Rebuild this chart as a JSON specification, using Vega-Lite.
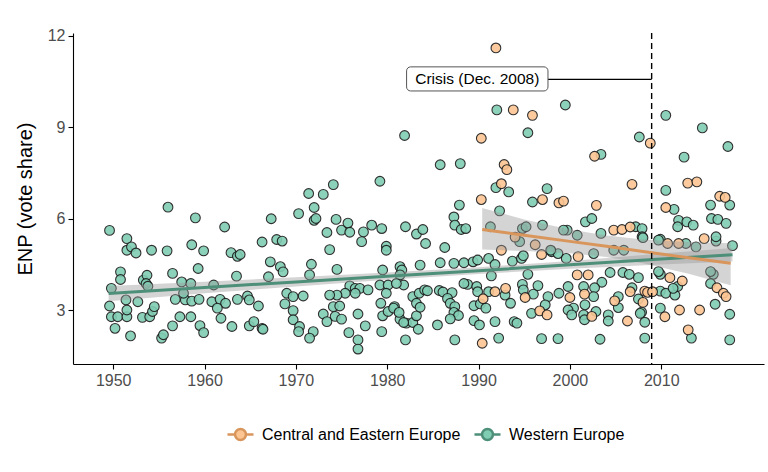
{
"$schema": "https://vega.github.io/schema/vega-lite/v6.json",
"width": 691, "height": 331,
"autosize": {"type": "none"},
"padding": {"left": 73, "top": 33, "right": 4, "bottom": 108},
"background": "white",
"config": {
 "font": "Liberation Sans",
 "view": {"stroke": null},
 "axis": {"grid": false, "domainColor": "#000000", "domainWidth": 1.1, "tickColor": "#000000", "tickWidth": 1.1, "tickSize": 5, "labelColor": "#4d4d4d", "labelFontSize": 16, "labelPadding": 3, "titleColor": "#000000", "titleFontSize": 20, "titleFontWeight": "normal"}
},
"datasets": {
 "pts": [
{"region":"Western Europe","year":1949.6,"enp":5.62},{"region":"Western Europe","year":1951.5,"enp":5.35},{"region":"Western Europe","year":1951.5,"enp":4.97},{"region":"Western Europe","year":1952.0,"enp":5.08},{"region":"Western Europe","year":1952.5,"enp":4.88},{"region":"Western Europe","year":1954.2,"enp":4.97},{"region":"Western Europe","year":1956.0,"enp":6.38},{"region":"Western Europe","year":1955.9,"enp":4.95},{"region":"Western Europe","year":1958.6,"enp":5.15},{"region":"Western Europe","year":1959.0,"enp":6.03},{"region":"Western Europe","year":1959.9,"enp":4.95},{"region":"Western Europe","year":1962.2,"enp":5.73},{"region":"Western Europe","year":1962.9,"enp":4.89},{"region":"Western Europe","year":1963.6,"enp":4.77},{"region":"Western Europe","year":1963.9,"enp":4.83},{"region":"Western Europe","year":1966.3,"enp":5.24},
{"region":"Western Europe","year":1950.8,"enp":4.26},{"region":"Western Europe","year":1950.8,"enp":4.01},{"region":"Western Europe","year":1953.3,"enp":3.99},{"region":"Western Europe","year":1953.7,"enp":4.15},{"region":"Western Europe","year":1953.6,"enp":3.88},{"region":"Western Europe","year":1953.8,"enp":3.79},{"region":"Western Europe","year":1956.5,"enp":4.21},{"region":"Western Europe","year":1959.3,"enp":4.37},{"region":"Western Europe","year":1957.5,"enp":3.93},{"region":"Western Europe","year":1958.5,"enp":3.88},{"region":"Western Europe","year":1963.5,"enp":4.12},{"region":"Western Europe","year":1961.0,"enp":3.83},
{"region":"Western Europe","year":1949.8,"enp":3.72},{"region":"Western Europe","year":1951.4,"enp":3.34},{"region":"Western Europe","year":1952.7,"enp":3.28},{"region":"Western Europe","year":1949.6,"enp":3.14},{"region":"Western Europe","year":1949.8,"enp":2.79},{"region":"Western Europe","year":1950.5,"enp":2.79},{"region":"Western Europe","year":1951.5,"enp":2.79},{"region":"Western Europe","year":1951.5,"enp":3.01},{"region":"Western Europe","year":1950.2,"enp":2.41},{"region":"Western Europe","year":1951.9,"enp":2.16},{"region":"Western Europe","year":1953.2,"enp":2.77},{"region":"Western Europe","year":1954.0,"enp":2.79},{"region":"Western Europe","year":1954.3,"enp":2.96},{"region":"Western Europe","year":1954.5,"enp":3.12},{"region":"Western Europe","year":1955.3,"enp":2.09},{"region":"Western Europe","year":1955.5,"enp":2.2},{"region":"Western Europe","year":1956.5,"enp":2.49},{"region":"Western Europe","year":1957.3,"enp":2.79},{"region":"Western Europe","year":1958.5,"enp":2.79},{"region":"Western Europe","year":1959.5,"enp":2.5},{"region":"Western Europe","year":1959.9,"enp":2.27},{"region":"Western Europe","year":1956.8,"enp":3.36},{"region":"Western Europe","year":1957.9,"enp":3.34},{"region":"Western Europe","year":1958.6,"enp":3.3},{"region":"Western Europe","year":1959.4,"enp":3.36},{"region":"Western Europe","year":1960.8,"enp":3.28},{"region":"Western Europe","year":1961.7,"enp":3.36},{"region":"Western Europe","year":1962.3,"enp":3.23},{"region":"Western Europe","year":1961.4,"enp":3.07},{"region":"Western Europe","year":1961.8,"enp":2.74},{"region":"Western Europe","year":1963.0,"enp":2.47},{"region":"Western Europe","year":1963.6,"enp":3.36},{"region":"Western Europe","year":1964.7,"enp":3.47},{"region":"Western Europe","year":1964.9,"enp":3.34},{"region":"Western Europe","year":1965.9,"enp":3.14},{"region":"Western Europe","year":1964.9,"enp":2.49},{"region":"Western Europe","year":1965.4,"enp":2.63},{"region":"Western Europe","year":1966.3,"enp":2.41},{"region":"Western Europe","year":1966.4,"enp":2.38},{"region":"Western Europe","year":1957.7,"enp":3.56},
{"region":"Western Europe","year":1967.0,"enp":4.10},{"region":"Western Europe","year":1967.2,"enp":4.59},{"region":"Western Europe","year":1968.3,"enp":4.43},{"region":"Western Europe","year":1968.6,"enp":4.26},{"region":"Western Europe","year":1967.3,"enp":6.0},{"region":"Western Europe","year":1967.9,"enp":5.32},{"region":"Western Europe","year":1968.5,"enp":5.27},{"region":"Western Europe","year":1970.3,"enp":6.17},{"region":"Western Europe","year":1971.4,"enp":6.83},{"region":"Western Europe","year":1972.0,"enp":6.37},{"region":"Western Europe","year":1972.0,"enp":5.95},{"region":"Western Europe","year":1972.2,"enp":6.01},{"region":"Western Europe","year":1973.0,"enp":6.8},{"region":"Western Europe","year":1974.1,"enp":7.12},{"region":"Western Europe","year":1973.4,"enp":5.55},{"region":"Western Europe","year":1974.4,"enp":5.98},{"region":"Western Europe","year":1975.0,"enp":5.63},{"region":"Western Europe","year":1975.7,"enp":5.86},{"region":"Western Europe","year":1975.9,"enp":5.56},{"region":"Western Europe","year":1977.4,"enp":5.57},{"region":"Western Europe","year":1977.2,"enp":5.25},{"region":"Western Europe","year":1978.3,"enp":5.79},{"region":"Western Europe","year":1979.4,"enp":5.68},{"region":"Western Europe","year":1979.2,"enp":7.23},{"region":"Western Europe","year":1979.9,"enp":5.10},{"region":"Western Europe","year":1979.9,"enp":4.97},{"region":"Western Europe","year":1973.7,"enp":4.99},{"region":"Western Europe","year":1971.7,"enp":4.51},{"region":"Western Europe","year":1974.5,"enp":4.34},{"region":"Western Europe","year":1971.5,"enp":4.16},{"region":"Western Europe","year":1979.5,"enp":4.32},
{"region":"Western Europe","year":1979.2,"enp":3.83},{"region":"Western Europe","year":1980.1,"enp":3.83},{"region":"Western Europe","year":1979.9,"enp":3.56},{"region":"Western Europe","year":1975.9,"enp":3.80},{"region":"Western Europe","year":1976.5,"enp":3.72},{"region":"Western Europe","year":1977.0,"enp":3.72},{"region":"Western Europe","year":1977.9,"enp":3.67},{"region":"Western Europe","year":1976.5,"enp":3.56},{"region":"Western Europe","year":1975.4,"enp":3.56},{"region":"Western Europe","year":1974.5,"enp":3.50},{"region":"Western Europe","year":1973.7,"enp":3.50},{"region":"Western Europe","year":1969.0,"enp":3.56},{"region":"Western Europe","year":1969.7,"enp":3.45},{"region":"Western Europe","year":1970.8,"enp":3.47},{"region":"Western Europe","year":1968.8,"enp":3.21},{"region":"Western Europe","year":1969.7,"enp":2.99},{"region":"Western Europe","year":1974.1,"enp":3.12},{"region":"Western Europe","year":1974.8,"enp":3.14},{"region":"Western Europe","year":1974.3,"enp":2.80},{"region":"Western Europe","year":1976.8,"enp":2.88},{"region":"Western Europe","year":1975.0,"enp":2.71},{"region":"Western Europe","year":1973.0,"enp":2.88},{"region":"Western Europe","year":1973.4,"enp":2.63},{"region":"Western Europe","year":1969.7,"enp":2.69},{"region":"Western Europe","year":1970.4,"enp":2.47},{"region":"Western Europe","year":1970.3,"enp":2.30},{"region":"Western Europe","year":1971.9,"enp":2.30},{"region":"Western Europe","year":1971.5,"enp":2.09},{"region":"Western Europe","year":1975.8,"enp":2.27},{"region":"Western Europe","year":1976.8,"enp":2.03},{"region":"Western Europe","year":1976.8,"enp":1.73},{"region":"Western Europe","year":1977.6,"enp":2.49},{"region":"Western Europe","year":1979.5,"enp":2.82},{"region":"Western Europe","year":1979.4,"enp":2.30},{"region":"Western Europe","year":1979.3,"enp":3.23},
{"region":"Western Europe","year":1980.1,"enp":2.96},{"region":"Western Europe","year":1980.8,"enp":3.12},{"region":"Western Europe","year":1981.4,"enp":2.71},{"region":"Western Europe","year":1982.1,"enp":2.58},{"region":"Western Europe","year":1982.8,"enp":2.6},{"region":"Western Europe","year":1983.2,"enp":2.82},{"region":"Western Europe","year":1982.0,"enp":2.03},{"region":"Western Europe","year":1982.8,"enp":3.45},{"region":"Western Europe","year":1983.5,"enp":3.56},{"region":"Western Europe","year":1983.2,"enp":3.23},{"region":"Western Europe","year":1983.6,"enp":3.10},{"region":"Western Europe","year":1984.1,"enp":3.67},{"region":"Western Europe","year":1983.4,"enp":2.38},{"region":"Western Europe","year":1981.4,"enp":4.43},{"region":"Western Europe","year":1981.6,"enp":4.32},{"region":"Western Europe","year":1983.6,"enp":4.48},{"region":"Western Europe","year":1981.4,"enp":4.16},{"region":"Western Europe","year":1981.8,"enp":3.83},{"region":"Western Europe","year":1981.0,"enp":3.88},{"region":"Western Europe","year":1982.0,"enp":5.74},{"region":"Western Europe","year":1983.2,"enp":5.5},{"region":"Western Europe","year":1983.9,"enp":5.65},{"region":"Western Europe","year":1984.2,"enp":5.19},{"region":"Western Europe","year":1981.9,"enp":8.73},{"region":"Western Europe","year":1985.8,"enp":7.77},{"region":"Western Europe","year":1988.0,"enp":7.81},{"region":"Western Europe","year":1987.9,"enp":6.45},{"region":"Western Europe","year":1987.3,"enp":6.06},{"region":"Western Europe","year":1987.4,"enp":5.79},{"region":"Western Europe","year":1988.1,"enp":5.65},{"region":"Western Europe","year":1988.6,"enp":5.68},{"region":"Western Europe","year":1986.3,"enp":5.06},{"region":"Western Europe","year":1985.8,"enp":4.56},{"region":"Western Europe","year":1987.3,"enp":4.54},{"region":"Western Europe","year":1988.4,"enp":4.56},{"region":"Western Europe","year":1989.4,"enp":4.59},{"region":"Western Europe","year":1989.9,"enp":4.65},{"region":"Western Europe","year":1984.4,"enp":3.64},{"region":"Western Europe","year":1985.7,"enp":3.65},{"region":"Western Europe","year":1986.1,"enp":3.6},{"region":"Western Europe","year":1987.1,"enp":3.58},{"region":"Western Europe","year":1986.6,"enp":3.39},{"region":"Western Europe","year":1986.9,"enp":3.23},{"region":"Western Europe","year":1987.4,"enp":3.12},{"region":"Western Europe","year":1987.3,"enp":2.93},{"region":"Western Europe","year":1987.8,"enp":2.83},{"region":"Western Europe","year":1986.9,"enp":2.72},{"region":"Western Europe","year":1985.5,"enp":2.52},{"region":"Western Europe","year":1987.4,"enp":2.03},{"region":"Western Europe","year":1988.8,"enp":3.85},{"region":"Western Europe","year":1989.8,"enp":3.78},{"region":"Western Europe","year":1988.4,"enp":3.88},{"region":"Western Europe","year":1989.9,"enp":3.61},{"region":"Western Europe","year":1989.5,"enp":3.15},{"region":"Western Europe","year":1990.2,"enp":3.21},{"region":"Western Europe","year":1989.5,"enp":2.66},{"region":"Western Europe","year":1990.1,"enp":2.52},{"region":"Western Europe","year":1980.7,"enp":3.07},{"region":"Western Europe","year":1981.3,"enp":2.93},{"region":"Western Europe","year":1981.8,"enp":2.6},
{"region":"Western Europe","year":1992.0,"enp":9.57},{"region":"Western Europe","year":1999.5,"enp":9.73},{"region":"Western Europe","year":1995.4,"enp":8.82},{"region":"Western Europe","year":1991.9,"enp":7.02},{"region":"Western Europe","year":1993.3,"enp":6.88},{"region":"Western Europe","year":1997.5,"enp":6.99},{"region":"Western Europe","year":1995.9,"enp":6.55},{"region":"Western Europe","year":1992.3,"enp":6.26},{"region":"Western Europe","year":2001.7,"enp":5.9},{"region":"Western Europe","year":2002.4,"enp":6.01},{"region":"Western Europe","year":1999.7,"enp":5.63},{"region":"Western Europe","year":1991.1,"enp":4.7},{"region":"Western Europe","year":1991.8,"enp":4.5},{"region":"Western Europe","year":1993.7,"enp":4.61},{"region":"Western Europe","year":1994.7,"enp":4.70},{"region":"Western Europe","year":1994.9,"enp":4.79},{"region":"Western Europe","year":1998.0,"enp":4.92},{"region":"Western Europe","year":1998.7,"enp":4.86},{"region":"Western Europe","year":1999.6,"enp":4.70},{"region":"Western Europe","year":1991.4,"enp":4.13},{"region":"Western Europe","year":1995.4,"enp":4.18},{"region":"Western Europe","year":1991.1,"enp":3.61},{"region":"Western Europe","year":1990.8,"enp":3.07},{"region":"Western Europe","year":1991.8,"enp":2.63},{"region":"Western Europe","year":1992.2,"enp":2.09},{"region":"Western Europe","year":1992.9,"enp":3.5},{"region":"Western Europe","year":1993.5,"enp":3.23},{"region":"Western Europe","year":1993.9,"enp":2.63},{"region":"Western Europe","year":1994.2,"enp":2.58},{"region":"Western Europe","year":1994.8,"enp":3.85},{"region":"Western Europe","year":1994.9,"enp":3.67},{"region":"Western Europe","year":1996.0,"enp":3.53},{"region":"Western Europe","year":1996.5,"enp":3.81},{"region":"Western Europe","year":1997.6,"enp":3.45},{"region":"Western Europe","year":1997.3,"enp":3.18},{"region":"Western Europe","year":1995.8,"enp":2.9},{"region":"Western Europe","year":1998.8,"enp":3.56},{"region":"Western Europe","year":1999.8,"enp":3.78},{"region":"Western Europe","year":2000.4,"enp":3.07},{"region":"Western Europe","year":1999.8,"enp":3.01},{"region":"Western Europe","year":2000.2,"enp":2.85},{"region":"Western Europe","year":2001.5,"enp":3.78},{"region":"Western Europe","year":2001.65,"enp":3.18},{"region":"Western Europe","year":2001.5,"enp":2.85},{"region":"Western Europe","year":2001.6,"enp":2.69},{"region":"Western Europe","year":1996.9,"enp":2.07},{"region":"Western Europe","year":1998.7,"enp":2.07},{"region":"Western Europe","year":1991.3,"enp":5.74},{"region":"Western Europe","year":1994.8,"enp":5.68},{"region":"Western Europe","year":1995.2,"enp":5.74},{"region":"Western Europe","year":1997.0,"enp":5.79},{"region":"Western Europe","year":1999.3,"enp":5.63},{"region":"Western Europe","year":2000.8,"enp":5.46},{"region":"Western Europe","year":1997.9,"enp":4.97},{"region":"Western Europe","year":1994.5,"enp":5.25},
{"region":"Western Europe","year":2003.4,"enp":8.11},{"region":"Western Europe","year":2007.6,"enp":8.68},{"region":"Western Europe","year":2007.2,"enp":5.74},{"region":"Western Europe","year":2007.9,"enp":5.68},{"region":"Western Europe","year":2003.4,"enp":5.52},{"region":"Western Europe","year":2007.9,"enp":5.41},{"region":"Western Europe","year":2004.8,"enp":4.97},{"region":"Western Europe","year":2005.9,"enp":4.97},{"region":"Western Europe","year":2002.6,"enp":4.86},{"region":"Western Europe","year":2008.0,"enp":5.38},{"region":"Western Europe","year":2004.4,"enp":4.24},{"region":"Western Europe","year":2005.8,"enp":4.24},{"region":"Western Europe","year":2006.5,"enp":4.18},{"region":"Western Europe","year":2007.5,"enp":4.07},{"region":"Western Europe","year":2003.5,"enp":3.92},{"region":"Western Europe","year":2002.7,"enp":3.74},{"region":"Western Europe","year":2002.6,"enp":3.45},{"region":"Western Europe","year":2006.8,"enp":3.74},{"region":"Western Europe","year":2005.3,"enp":3.45},{"region":"Western Europe","year":2005.3,"enp":3.09},{"region":"Western Europe","year":2007.5,"enp":3.37},{"region":"Western Europe","year":2007.85,"enp":2.94},{"region":"Western Europe","year":2003.3,"enp":2.05},{"region":"Western Europe","year":2004.2,"enp":2.85},{"region":"Western Europe","year":2004.2,"enp":2.65},{"region":"Western Europe","year":2007.7,"enp":2.9},{"region":"Western Europe","year":2008.2,"enp":2.61},{"region":"Western Europe","year":2002.85,"enp":2.96},{"region":"Western Europe","year":2008.2,"enp":2.09},
{"region":"Western Europe","year":2010.5,"enp":9.39},{"region":"Western Europe","year":2014.5,"enp":8.98},{"region":"Western Europe","year":2017.3,"enp":8.37},{"region":"Western Europe","year":2012.5,"enp":8.02},{"region":"Western Europe","year":2010.5,"enp":6.93},{"region":"Western Europe","year":2011.4,"enp":6.31},{"region":"Western Europe","year":2015.4,"enp":6.45},{"region":"Western Europe","year":2017.5,"enp":6.45},{"region":"Western Europe","year":2011.9,"enp":5.95},{"region":"Western Europe","year":2012.8,"enp":5.9},{"region":"Western Europe","year":2013.5,"enp":5.79},{"region":"Western Europe","year":2011.8,"enp":5.74},{"region":"Western Europe","year":2015.5,"enp":6.01},{"region":"Western Europe","year":2016.2,"enp":5.98},{"region":"Western Europe","year":2017.1,"enp":5.85},{"region":"Western Europe","year":2009.9,"enp":5.33},{"region":"Western Europe","year":2016.0,"enp":5.27},{"region":"Western Europe","year":2017.8,"enp":5.12},{"region":"Western Europe","year":2012.7,"enp":5.19},{"region":"Western Europe","year":2009.7,"enp":5.3},{"region":"Western Europe","year":2009.9,"enp":4.18},{"region":"Western Europe","year":2009.7,"enp":4.27},{"region":"Western Europe","year":2015.7,"enp":4.18},{"region":"Western Europe","year":2015.4,"enp":3.88},{"region":"Western Europe","year":2015.4,"enp":4.27},{"region":"Western Europe","year":2009.9,"enp":3.63},{"region":"Western Europe","year":2010.5,"enp":3.56},{"region":"Western Europe","year":2011.5,"enp":3.5},{"region":"Western Europe","year":2011.8,"enp":3.78},{"region":"Western Europe","year":2011.3,"enp":3.72},{"region":"Western Europe","year":2009.9,"enp":3.07},{"region":"Western Europe","year":2015.9,"enp":3.2},{"region":"Western Europe","year":2017.5,"enp":2.87},{"region":"Western Europe","year":2013.3,"enp":2.09},{"region":"Western Europe","year":2017.5,"enp":2.03},{"region":"Western Europe","year":2013.8,"enp":5.08},{"region":"Western Europe","year":2016.0,"enp":5.41},
{"region":"Central and Eastern Europe","year":1990.3,"enp":8.64},{"region":"Central and Eastern Europe","year":1990.3,"enp":6.63},{"region":"Central and Eastern Europe","year":1990.5,"enp":3.38},{"region":"Central and Eastern Europe","year":1990.4,"enp":1.92},{"region":"Central and Eastern Europe","year":1991.9,"enp":11.6},{"region":"Central and Eastern Europe","year":1993.8,"enp":9.57},{"region":"Central and Eastern Europe","year":1995.9,"enp":9.39},{"region":"Central and Eastern Europe","year":1992.8,"enp":7.78},{"region":"Central and Eastern Europe","year":1993.1,"enp":7.61},{"region":"Central and Eastern Europe","year":1992.5,"enp":7.15},{"region":"Central and Eastern Europe","year":1997.0,"enp":6.63},{"region":"Central and Eastern Europe","year":1998.8,"enp":6.52},{"region":"Central and Eastern Europe","year":1999.3,"enp":6.58},{"region":"Central and Eastern Europe","year":1992.5,"enp":4.97},{"region":"Central and Eastern Europe","year":1996.9,"enp":4.83},{"region":"Central and Eastern Europe","year":2000.9,"enp":4.76},{"region":"Central and Eastern Europe","year":2002.0,"enp":4.16},{"region":"Central and Eastern Europe","year":1991.8,"enp":3.61},{"region":"Central and Eastern Europe","year":1992.96,"enp":3.72},{"region":"Central and Eastern Europe","year":1995.1,"enp":3.42},{"region":"Central and Eastern Europe","year":1996.7,"enp":2.98},{"region":"Central and Eastern Europe","year":1997.5,"enp":2.85},{"region":"Central and Eastern Europe","year":2000.0,"enp":3.42},{"region":"Central and Eastern Europe","year":2001.6,"enp":3.53},{"region":"Central and Eastern Europe","year":2002.4,"enp":2.8},{"region":"Central and Eastern Europe","year":1994.0,"enp":5.4},{"region":"Central and Eastern Europe","year":1996.2,"enp":5.15},{"region":"Central and Eastern Europe","year":2002.7,"enp":8.05},{"region":"Central and Eastern Europe","year":2002.9,"enp":6.44},{"region":"Central and Eastern Europe","year":2006.8,"enp":7.13},{"region":"Central and Eastern Europe","year":2008.8,"enp":8.48},{"region":"Central and Eastern Europe","year":2004.8,"enp":5.63},{"region":"Central and Eastern Europe","year":2005.7,"enp":5.65},{"region":"Central and Eastern Europe","year":2006.6,"enp":5.73},{"region":"Central and Eastern Europe","year":2000.8,"enp":4.16},{"region":"Central and Eastern Europe","year":2006.6,"enp":3.61},{"region":"Central and Eastern Europe","year":2004.9,"enp":3.31},{"region":"Central and Eastern Europe","year":2008.0,"enp":3.26},{"region":"Central and Eastern Europe","year":2008.2,"enp":3.63},{"region":"Central and Eastern Europe","year":2008.5,"enp":3.59},{"region":"Central and Eastern Europe","year":2006.3,"enp":2.65},{"region":"Central and Eastern Europe","year":2012.9,"enp":7.17},{"region":"Central and Eastern Europe","year":2013.9,"enp":7.21},{"region":"Central and Eastern Europe","year":2010.5,"enp":6.37},{"region":"Central and Eastern Europe","year":2016.4,"enp":6.74},{"region":"Central and Eastern Europe","year":2017.0,"enp":6.70},{"region":"Central and Eastern Europe","year":2009.05,"enp":3.61},{"region":"Central and Eastern Europe","year":2010.4,"enp":2.79},{"region":"Central and Eastern Europe","year":2012.0,"enp":3.01},{"region":"Central and Eastern Europe","year":2014.2,"enp":3.01},{"region":"Central and Eastern Europe","year":2012.95,"enp":2.36},{"region":"Central and Eastern Europe","year":2010.95,"enp":4.07},{"region":"Central and Eastern Europe","year":2012.3,"enp":3.96},{"region":"Central and Eastern Europe","year":2016.1,"enp":3.74},{"region":"Central and Eastern Europe","year":2016.8,"enp":3.56},{"region":"Central and Eastern Europe","year":2017.1,"enp":3.45},{"region":"Central and Eastern Europe","year":2010.7,"enp":5.19},{"region":"Central and Eastern Europe","year":2014.7,"enp":5.35},{"region":"Central and Eastern Europe","year":2011.9,"enp":5.19}
 ],
 "fit": [
{"region":"Western Europe","year":1949.5,"fit":3.55,"lo":3.30,"hi":3.80},{"region":"Western Europe","year":1960,"fit":3.75,"lo":3.56,"hi":3.94},{"region":"Western Europe","year":1970,"fit":3.93,"lo":3.78,"hi":4.08},{"region":"Western Europe","year":1980,"fit":4.12,"lo":4.00,"hi":4.24},{"region":"Western Europe","year":1990,"fit":4.30,"lo":4.19,"hi":4.41},{"region":"Western Europe","year":2000,"fit":4.49,"lo":4.36,"hi":4.62},{"region":"Western Europe","year":2010,"fit":4.68,"lo":4.50,"hi":4.86},{"region":"Western Europe","year":2017.8,"fit":4.82,"lo":4.60,"hi":5.04},
{"region":"Central and Eastern Europe","year":1990.4,"fit":5.65,"lo":4.99,"hi":6.35},{"region":"Central and Eastern Europe","year":1995,"fit":5.46,"lo":4.94,"hi":5.98},{"region":"Central and Eastern Europe","year":2000,"fit":5.26,"lo":4.87,"hi":5.65},{"region":"Central and Eastern Europe","year":2004,"fit":5.10,"lo":4.75,"hi":5.45},{"region":"Central and Eastern Europe","year":2008,"fit":4.93,"lo":4.54,"hi":5.32},{"region":"Central and Eastern Europe","year":2013,"fit":4.72,"lo":4.20,"hi":5.24},{"region":"Central and Eastern Europe","year":2017.6,"fit":4.54,"lo":3.82,"hi":5.20}
 ]
},
"layer": [
 {
  "data": {"name": "pts"},
  "mark": {"type": "point", "filled": true, "size": 95, "stroke": "#1a1a1a", "strokeWidth": 1.1, "opacity": 0.9},
  "encoding": {
   "x": {"field": "year", "type": "quantitative", "title": null, "scale": {"domain": [1945.6, 2021.25], "nice": false, "zero": false}, "axis": {"values": [1950, 1960, 1970, 1980, 1990, 2000, 2010], "format": "d"}},
   "y": {"field": "enp", "type": "quantitative", "title": "ENP (vote share)", "scale": {"domain": [1.24, 12.09], "nice": false, "zero": false}, "axis": {"values": [3, 6, 9, 12], "titlePadding": 12}},
   "fill": {"field": "region", "type": "nominal", "scale": {"domain": ["Central and Eastern Europe", "Western Europe"], "range": ["#fcc592", "#80cdb3"]},
    "legend": {"title": null, "orient": "none", "direction": "horizontal", "legendX": 153, "legendY": 387, "padding": 0,
     "symbolType": "M-1,0L-0.42,0M0.42,0L1,0M0.42,0A0.42,0.42,0,1,1,-0.42,0A0.42,0.42,0,1,1,0.42,0Z",
     "symbolSize": 676, "symbolStrokeWidth": 2.5, "symbolOpacity": 1, "labelFontSize": 16, "labelColor": "#000000", "labelOffset": 7, "labelLimit": 0, "columnPadding": 8,
     "encode": {"symbols": {"update": {"stroke": {"scale": "stroke", "field": "value"}, "opacity": {"value": 1}}}}}}
  }
 },
 {
  "data": {"name": "fit"},
  "mark": {"type": "area", "color": "#999999", "opacity": 0.42},
  "encoding": {
   "x": {"field": "year", "type": "quantitative", "title": null},
   "y": {"field": "lo", "type": "quantitative", "title": "ENP (vote share)"},
   "y2": {"field": "hi"},
   "detail": {"field": "region", "type": "nominal"}
  }
 },
 {
  "data": {"name": "fit"},
  "mark": {"type": "line", "strokeWidth": 3},
  "encoding": {
   "x": {"field": "year", "type": "quantitative", "title": null},
   "y": {"field": "fit", "type": "quantitative", "title": "ENP (vote share)"},
   "stroke": {"field": "region", "type": "nominal", "scale": {"domain": ["Central and Eastern Europe", "Western Europe"], "range": ["#d9965c", "#4e8f79"]}, "legend": null}
  }
 },
 {
  "data": {"values": [{"year": 2008.95}]},
  "mark": {"type": "rule", "color": "#000000", "strokeWidth": 1.4, "strokeDash": [6, 4]},
  "encoding": {"x": {"field": "year", "type": "quantitative", "title": null}}
 },
 {
  "data": {"values": [{"year": 1997.6, "year2": 2008.95, "enp": 10.57}]},
  "mark": {"type": "rule", "color": "#000000", "strokeWidth": 1.3},
  "encoding": {"x": {"field": "year", "type": "quantitative", "title": null}, "x2": {"field": "year2"}, "y": {"field": "enp", "type": "quantitative", "title": "ENP (vote share)"}}
 },
 {
  "data": {"values": [{"year": 1982.12, "year2": 1997.6, "enp": 10.19, "enp2": 10.98}]},
  "mark": {"type": "rect", "fill": "#ffffff", "stroke": "#555555", "strokeWidth": 1, "cornerRadius": 4},
  "encoding": {"x": {"field": "year", "type": "quantitative", "title": null}, "x2": {"field": "year2"}, "y": {"field": "enp", "type": "quantitative", "title": "ENP (vote share)"}, "y2": {"field": "enp2"}}
 },
 {
  "data": {"values": [{"year": 1989.86, "enp": 10.58, "label": "Crisis (Dec. 2008)"}]},
  "mark": {"type": "text", "fontSize": 15.5, "color": "#000000", "baseline": "middle", "align": "center"},
  "encoding": {"x": {"field": "year", "type": "quantitative", "title": null}, "y": {"field": "enp", "type": "quantitative", "title": "ENP (vote share)"}, "text": {"field": "label"}}
 }
]
}
